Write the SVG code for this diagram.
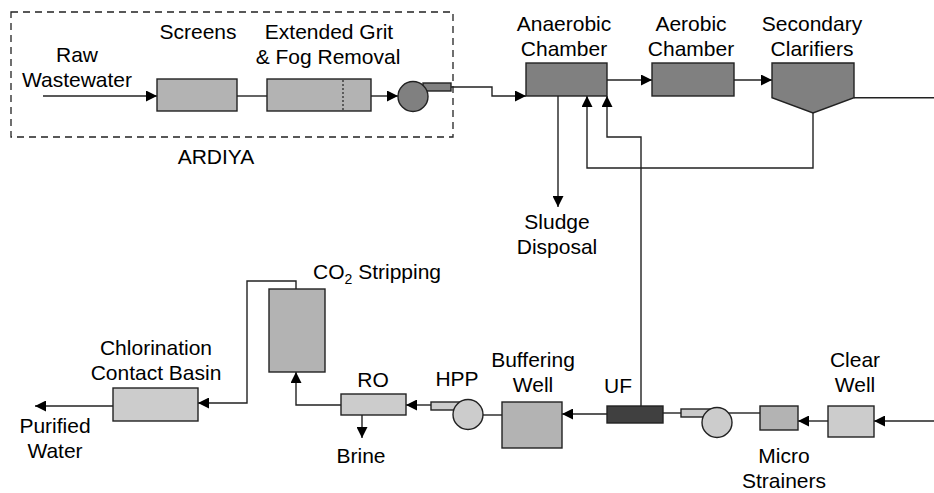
<svg xmlns="http://www.w3.org/2000/svg" width="934" height="493" viewBox="0 0 934 493">
<style>
text{font-family:"Liberation Sans",Arial,sans-serif;font-size:21px;fill:#000;text-anchor:middle}
.box{stroke:#222;stroke-width:1.4}
.d{fill:#808080}.m{fill:#b3b3b3}.l{fill:#cccccc}.k{fill:#404040}
.c{fill:none;stroke:#222;stroke-width:1.4}
.a{marker-end:url(#ah)}
</style>
<defs>
<marker id="ah" viewBox="0 0 10 10" refX="10" refY="5" markerUnits="userSpaceOnUse" markerWidth="11" markerHeight="11" orient="auto">
<path d="M0,0 L10,5 L0,10 z" fill="#000"/>
</marker>
</defs>
<rect width="934" height="493" fill="#fff"/>
<g id="connectors">
<path class="c a" d="M43,96 H157"/>
<path class="c" d="M237,96 H267"/>
<path class="c a" d="M371,96 H398"/>
<path class="c a" d="M451,87 H492 V96 H526"/>
<path class="c a" d="M607,80 H652"/>
<path class="c a" d="M734,80 H772"/>
<path class="c" d="M854,97.7 H934"/>
<path class="c a" d="M813,113 V168 H587 V96"/>
<path class="c a" d="M641,406 V137 H607 V96"/>
<path class="c a" d="M558,96 V207"/>
<path class="c a" d="M934,421 H874"/>
<path class="c a" d="M828,421 H798"/>
<path class="c" d="M760,413 H728"/>
<path class="c" d="M681,413 H663"/>
<path class="c a" d="M607,414 H562"/>
<path class="c" d="M502,415 H483"/>
<path class="c a" d="M431,405 H406"/>
<path class="c a" d="M341,405 H296 V372"/>
<path class="c a" d="M362,415 V438"/>
<path class="c a" d="M296,289 V281 H247 V403 H198"/>
<path class="c a" d="M113,406 H35"/>
</g>
<g id="ardiya">
<rect x="11" y="12" width="442" height="125" fill="none" stroke="#222" stroke-width="1.3" stroke-dasharray="7,5"/>
<text x="216" y="164">ARDIYA</text>
</g>
<g id="raw"><text x="77" y="62">Raw</text><text x="77" y="87">Wastewater</text></g>
<g id="screens"><rect class="box m" x="157" y="79" width="80" height="32"/><text x="198" y="39">Screens</text></g>
<g id="grit"><rect class="box m" x="267" y="79" width="104" height="32"/><path d="M343,80 V110" stroke="#222" stroke-width="1.2" stroke-dasharray="2,2"/><text x="329" y="39">Extended Grit</text><text x="328" y="64">&amp; Fog Removal</text></g>
<g id="pump1"><rect class="box d" x="423" y="83" width="28" height="8"/><circle class="box d" cx="413" cy="96.5" r="15"/></g>
<g id="anaerobic"><rect class="box d" x="526" y="63" width="81" height="33"/><text x="564" y="31">Anaerobic</text><text x="564" y="56">Chamber</text></g>
<g id="aerobic"><rect class="box d" x="652" y="63" width="82" height="33"/><text x="691" y="31">Aerobic</text><text x="691" y="56">Chamber</text></g>
<g id="clarifiers"><path class="box d" d="M772,63 H854 V97.7 L813,113 L772,97.7 Z"/><text x="812" y="31">Secondary</text><text x="812" y="56">Clarifiers</text></g>
<g id="sludge"><text x="557" y="229">Sludge</text><text x="557" y="254">Disposal</text></g>
<g id="clearwell"><rect class="box l" x="828" y="406" width="46" height="31"/><text x="855" y="367">Clear</text><text x="855" y="392">Well</text></g>
<g id="micro"><rect class="box m" x="760" y="406" width="38" height="24"/><text x="784" y="463">Micro</text><text x="784" y="488">Strainers</text></g>
<g id="pump2"><rect class="box l" x="681" y="409" width="30" height="8"/><circle class="box l" cx="717" cy="422.5" r="15"/></g>
<g id="uf"><rect class="box k" x="607" y="406" width="56" height="17"/><text x="618" y="393">UF</text></g>
<g id="buffering"><rect class="box m" x="502" y="402" width="60" height="46"/><text x="533" y="367">Buffering</text><text x="533" y="392">Well</text></g>
<g id="hpp"><rect class="box l" x="431" y="402" width="28" height="8"/><circle class="box l" cx="468" cy="414.5" r="15"/><text x="457" y="386">HPP</text></g>
<g id="ro"><rect class="box l" x="341" y="394" width="65" height="21"/><text x="373" y="387">RO</text></g>
<g id="brine"><text x="361" y="463">Brine</text></g>
<g id="co2"><rect class="box m" x="269" y="289" width="56" height="83"/><text x="313" y="279" style="text-anchor:start">CO<tspan font-size="14" dy="5">2</tspan><tspan dy="-5"> Stripping</tspan></text></g>
<g id="chlorination"><rect class="box l" x="113" y="388" width="85" height="33"/><text x="156" y="355">Chlorination</text><text x="156" y="380">Contact Basin</text></g>
<g id="purified"><text x="55" y="433">Purified</text><text x="55" y="458">Water</text></g>
</svg>
